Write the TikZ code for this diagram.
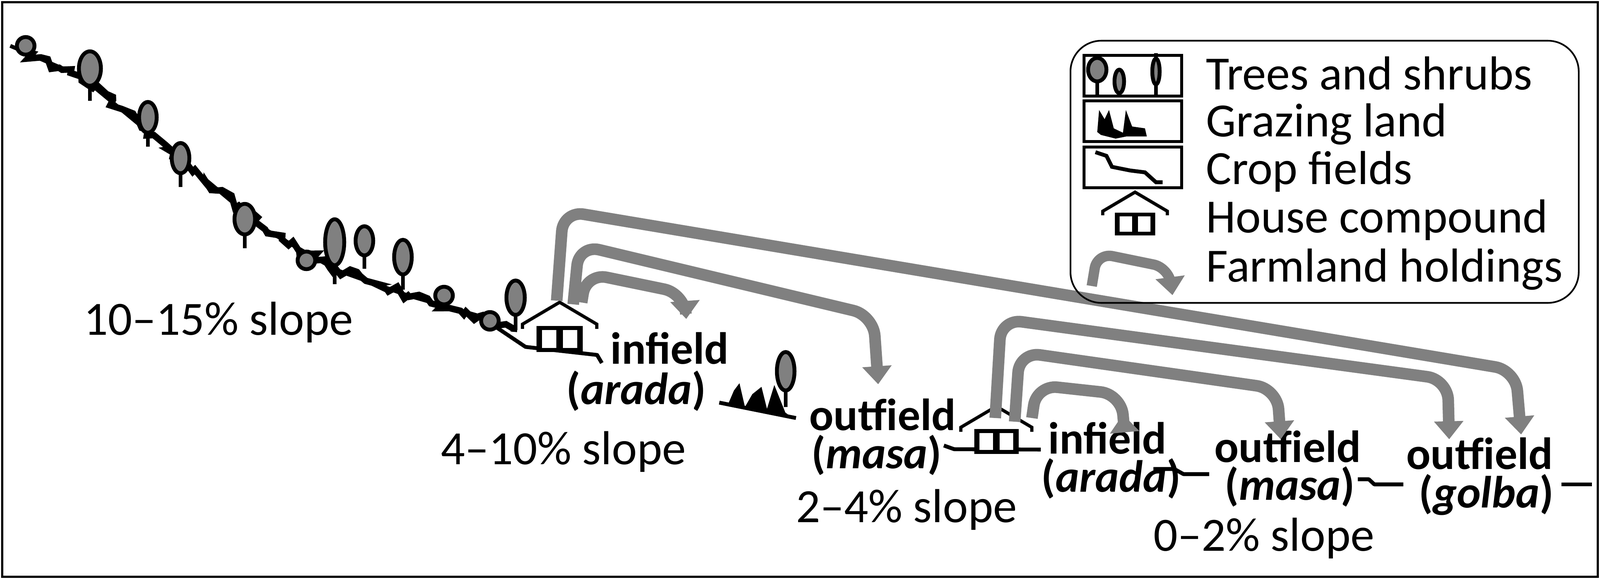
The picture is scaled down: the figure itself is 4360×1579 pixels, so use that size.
\documentclass[tikz,border=0pt]{standalone}
\usepackage{fontspec}
\setmainfont{Carlito}
\usetikzlibrary{arrows.meta,decorations.pathmorphing}
\definecolor{fg}{RGB}{128,128,128}
\tikzset{
  lbl/.style={font=\fontsize{37}{40}\selectfont, inner sep=0pt, anchor=west},
  fld/.style={font=\fontsize{35}{40}\selectfont\bfseries, inner sep=0pt, anchor=west},
  farm/.style={draw=fg, line width=9pt, rounded corners=16pt, -{Triangle[width=22pt,length=14pt]}},
  ground/.style={line width=3pt, line join=round},
  treeg/.style={fill=fg, draw=black, line width=3pt},
  pics/house/.style={code={
    \fill (-55,0) rectangle (55,-62);
    \fill[white] (-42,-10) rectangle (-8,-52);
    \fill[white] (8,-10) rectangle (42,-52);
    \draw[line width=2.5pt] (-88,-55) -- (-88,-66) -- (0,-118) -- (88,-66) -- (88,-55);
  }}
}
\newcommand{\mytree}[4]{% x, top, bottom, halfwidth
  \draw[line width=3pt] (#1,{#2+(#3-#2)*0.6}) -- (#1,#3+10);
  \draw[treeg] (#1,{(#2+#2+(#3-#2)*0.75)/2}) ellipse ({#4} and {(#3-#2)*0.375});
}
\begin{document}
\begin{tikzpicture}[x=0.01cm,y=-0.01cm]
\useasboundingbox (0,0) rectangle (4360,1579);
\fill[white] (0,0) rectangle (4360,1579);
\draw[line width=1.5pt] (6,6) rectangle (4354,1573);

% ground
\draw[ground] (28,125) -- (222,209) -- (473,417) -- (723,626) -- (918,737) -- (1112,806) -- (1307,862) -- (1432,946) -- (1627,968) -- (1640,990);
\draw[line width=5pt,decorate,decoration={random steps,segment length=5,amplitude=4}] (60,140) -- (222,209) -- (473,417) -- (723,626) -- (918,737) -- (1112,806) -- (1307,862) -- (1400,905);
\draw[ground] (1960,1098) -- (2169,1140);
\draw[ground] (2572,1215) -- (2600,1225) -- (2836,1226);
\draw[ground] (3143,1279) -- (3200,1279) -- (3225,1293) -- (3295,1293);
\draw[ground] (3700,1307) -- (3730,1307) -- (3745,1321) -- (3824,1321);
\draw[ground] (4255,1321) -- (4338,1321);
% grazing near outfield
\fill (1985,1100) -- (2000,1065) -- (2015,1045) -- (2030,1110) -- (2050,1075) -- (2075,1055) -- (2090,1115) -- (2110,1050) -- (2140,1125) -- (2160,1140) -- cycle;

% trees
\mytree{245}{140}{265}{30}
\mytree{403}{278}{390}{24}
\mytree{492}{390}{500}{24}
\mytree{667}{556}{667}{28}
\mytree{912}{598}{765}{26}
\mytree{993}{617}{723}{24}
\mytree{1098}{654}{780}{24}
\mytree{1405}{765}{890}{25}
\mytree{2141}{960}{1100}{24}
\foreach \p in {(70,125),(835,710),(1210,806),(1335,875)}
  \draw[treeg] \p circle (24);

% houses
\pic[scale=1.15] (h1) at (1525,960) {house};
\pic[scale=1.1] (h2) at (2715,1238) {house};

% labels
\node[lbl] (s1) at (228,879) {10–15\% slope};
\node[lbl] (s2) at (1201,1232) {4–10\% slope};
\node[lbl] (s3) at (2169,1390) {2–4\% slope};
\node[lbl] (s4) at (3143,1468) {0–2\% slope};
\node[fld] (f1a) at (1663,950) {infield};
\node[fld] (f1b) at (1543,1066) {(\textit{arada})};
\node[fld] (f2a) at (2205,1131) {outfield};
\node[fld] (f2b) at (2211,1241) {(\textit{masa})};
\node[fld] (f3a) at (2856,1195) {infield};
\node[fld] (f3b) at (2837,1305) {(\textit{arada})};
\node[fld] (f4a) at (3309,1218) {outfield};
\node[fld] (f4b) at (3337,1327) {(\textit{masa})};
\node[fld] (f5a) at (3832,1237) {outfield};
\node[fld] (f5b) at (3866,1349) {(\textit{golba})};

% farmland arrows
\draw[farm] (1585,825) -- (1598,745) -- (1865,800) -- (1870,870);
\draw[farm] (1562,830) -- (1578,668) -- (2380,860) -- (2393,1048);
\draw[farm] (1517,820) -- (1535,575) -- (4130,1010) -- (4145,1185);
\draw[farm] (2812,1140) -- (2825,1050) -- (3055,1075) -- (3060,1130);
\draw[farm] (2765,1150) -- (2778,960) -- (3480,1060) -- (3490,1198);
\draw[farm] (2712,1140) -- (2728,870) -- (3945,1035) -- (3949,1198);

% legend
\draw[line width=1.3pt, rounded corners=24pt] (2917,111) rectangle (4302,826);
\draw[line width=2.5pt] (2954,151) rectangle (3220,262);
\draw[line width=3pt] (2990,210) -- (2990,258);
\draw[treeg] (2990,190) ellipse (25 and 32);
\draw[line width=2.5pt] (3050,258) -- (3050,240);
\draw[treeg] (3050,222) ellipse (13 and 32);
\draw[line width=3pt] (3150,145) -- (3150,258);
\draw[treeg] (3150,195) ellipse (10 and 35);
\draw[line width=2.5pt] (2954,275) rectangle (3220,386);
\fill (2990,360) -- (2995,300) -- (3010,325) -- (3022,300) -- (3035,350) -- (3060,362) -- (3068,300) -- (3085,345) -- (3120,350) -- (3125,372) -- (3070,372) -- (3040,378) -- (3000,368) -- cycle;
\draw[line width=2.5pt] (2954,401) rectangle (3220,512);
\draw[line width=3pt] (2985,415) -- (3015,425) -- (3030,455) -- (3080,465) -- (3120,470) -- (3150,497) -- (3168,497);
\pic at (3093,642) {house};
\draw[farm,line width=8pt,rounded corners=12pt] (2975,780) -- (2990,690) -- (3185,730) -- (3195,805);
\node[lbl,anchor=base west] (l1) at (3286,245) {Trees and shrubs};
\node[lbl,anchor=base west] (l2) at (3286,373) {Grazing land};
\node[lbl,anchor=base west] (l3) at (3286,502) {Crop fields};
\node[lbl,anchor=base west] (l4) at (3286,634) {House compound};
\node[lbl,anchor=base west] (l5) at (3286,768) {Farmland holdings};
\end{tikzpicture}
\end{document}
